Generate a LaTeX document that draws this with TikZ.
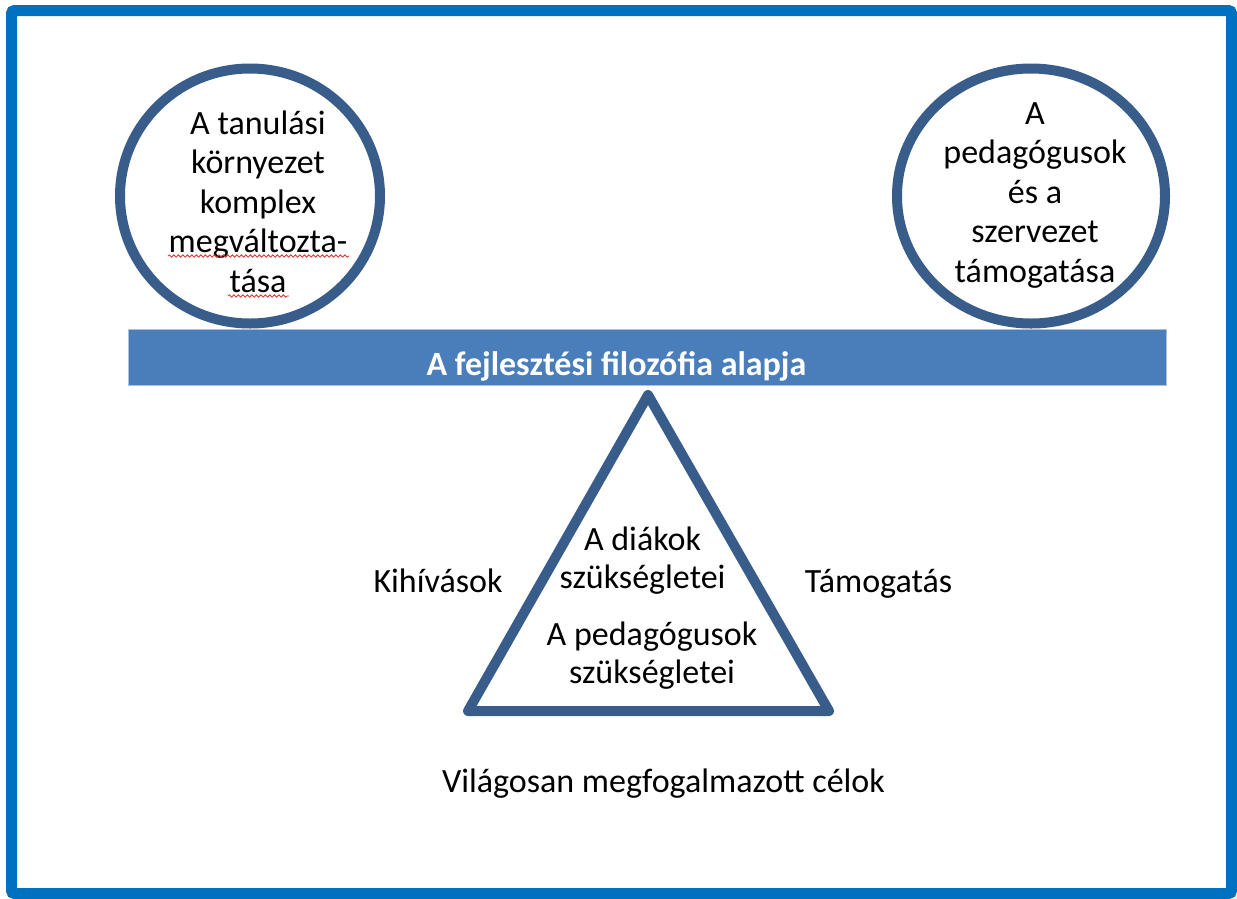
\documentclass[tikz,border=0pt]{standalone}
\usepackage{fontspec}
\setmainfont{Carlito}
\usetikzlibrary{shapes.geometric,decorations.pathmorphing}
\definecolor{frameblue}{HTML}{0070C0}
\definecolor{outl}{HTML}{385D8A}
\definecolor{barfill}{HTML}{4A7EBB}
\definecolor{barline}{HTML}{A9C1DF}
\definecolor{squig}{HTML}{E03030}
\tikzset{
  txt/.style={font=\fontsize{34}{39.5}\selectfont, inner sep=0pt, outer sep=0pt, align=center, anchor=base, text=black},
  ring/.style={draw=outl, line width=10pt, ellipse, inner sep=0pt},
  tri/.style={draw=outl, line width=10pt, line join=round},
  squiggle/.style={draw=squig, line width=0.8pt, decorate, decoration={snake, amplitude=1.2pt, segment length=4.5pt}},
}
\begin{document}
\begin{tikzpicture}[x=1pt,y=-1pt]
\useasboundingbox (0,0) rectangle (1237,898);
\fill[white] (0,0) rectangle (1237,898);
\draw[frameblue, line width=11pt, rounded corners=3pt] (11.5,10.5) rectangle (1231.5,893.5);

% circles
\node[ring, minimum width=260pt, minimum height=255pt] (lc) at (250,196) {};
\node[ring, minimum width=268pt, minimum height=255pt] (rc) at (1031,196) {};

% multi-line nodes: base anchor = last line's baseline
\node[txt] (lct) at (258,292) {A tanulási\\környezet\\komplex\\megváltozta-\\tása};
\draw[squiggle] (168,256) -- (349,256);
\draw[squiggle] (228,296) -- (289,296);

\node[txt] (rct) at (1035,282) {A\\pedagógusok\\és a\\szervezet\\támogatása};

% bar
\node[fill=barfill, draw=barline, line width=1pt, minimum width=1038pt, minimum height=56pt, inner sep=0pt] (bar) at (647,357.5) {};
\node[txt, text=white, font=\fontsize{34}{39.5}\selectfont\bfseries] (bart) at (616.5,375) {A fejlesztési filozófia alapja};

% triangle
\coordinate (apex) at (648,395);
\coordinate (bl) at (468,711);
\coordinate (br) at (829,711);
\draw[tri] (apex) -- (bl) -- (br) -- cycle;

\node[txt, font=\fontsize{34}{38}\selectfont] (diak) at (642.5,588) {A diákok\\szükségletei};
\node[txt, font=\fontsize{34}{38}\selectfont] (ped) at (652,683) {A pedagógusok\\szükségletei};

\node[txt] (kih) at (438,592) {Kihívások};
\node[txt] (tam) at (878.5,592) {Támogatás};
\node[txt] (vil) at (663.5,792) {Világosan megfogalmazott célok};
\end{tikzpicture}
\end{document}
